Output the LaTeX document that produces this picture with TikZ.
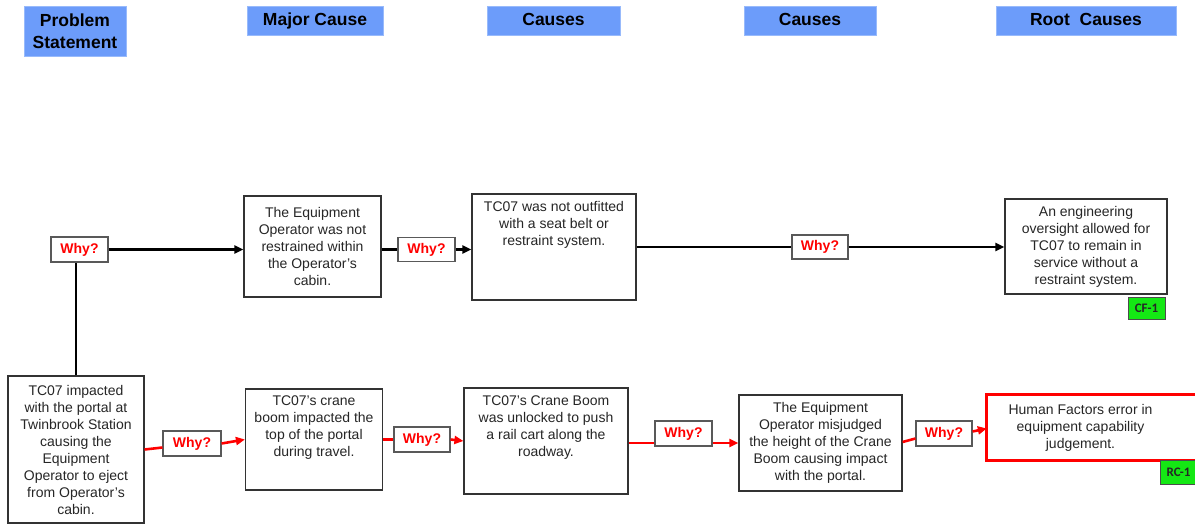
\documentclass[tikz,border=0pt]{standalone}
\usepackage{fontspec}
\setmainfont{Liberation Sans}
\newfontfamily\smallbold{Carlito}
\usetikzlibrary{arrows.meta,calc}
\definecolor{hdrblue}{RGB}{108,156,250}
\definecolor{tagGreen}{RGB}{20,232,20}
\newcommand{\cellbox}[4]{\parbox[c][#2][#3]{#1}{\centering #4}}
\begin{document}
\begin{tikzpicture}[x=1pt,y=-1pt,
  hdr/.style={fill=hdrblue, draw=hdrblue!70!white, line width=0.6pt, inner sep=0pt, align=center, font=\bfseries\fontsize{17.5}{21.5}\selectfont},
  hdr1/.style={hdr, text height=12.5pt, text depth=3.5pt},
  bx/.style={draw=black!80, line width=1.2pt, fill=white, inner sep=0pt, text=black!85, font=\fontsize{14}{17}\selectfont},
  why/.style={draw=black!65, line width=1.1pt, fill=white, inner sep=0pt, text=red, font=\bfseries\fontsize{14}{17}\selectfont},
  tag/.style={draw=black!70, line width=0.6pt, fill=tagGreen, inner sep=0pt, text=black!85, font=\smallbold\bfseries\fontsize{13}{15}\selectfont},
  bl/.style={line width=2.6pt, black},
  rd/.style={line width=2.6pt, red},
  tip/.style={-{Triangle[length=9pt,width=8pt]}}
]
\useasboundingbox (0,0) rectangle (1195,525);

% headers
\node[hdr, minimum width=102pt, minimum height=50pt] (h1) at (75,31) {Problem\\Statement};
\node[hdr1, minimum width=136pt, minimum height=29pt] (h2) at (315,20.5) {Major Cause};
\node[hdr1, minimum width=133pt, minimum height=29pt] (h3) at (553.5,20.5) {Causes};
\node[hdr1, minimum width=132pt, minimum height=29pt] (h4) at (810,20.5) {Causes};
\node[hdr1, minimum width=180pt, minimum height=29pt] (h5) at (1086,20.5) {Root~ Causes};

% top row
\node[why, minimum width=57pt, minimum height=25pt] (w1) at (79.5,249.5) {Why?};
\node[bx] (m1) at (312.5,246.5) {\cellbox{137pt}{101pt}{c}{The Equipment\\Operator was not\\restrained within\\the Operator’s\\cabin.}};
\node[why, minimum width=57pt, minimum height=24pt] (w2) at (426.5,249.5) {Why?};
\node[bx] (c1) at (554,247) {\cellbox{164pt}{106pt}{t}{\vspace*{7pt}TC07 was not outfitted\\with a seat belt or\\restraint system.}};
\node[why, minimum width=56pt, minimum height=24pt] (w3) at (820,247) {Why?};
\node[bx] (r1) at (1086,246.5) {\cellbox{162pt}{95pt}{c}{An engineering\\oversight allowed for\\TC07 to remain in\\service without a\\restraint system.}};
\node[tag, minimum width=37pt, minimum height=22pt] (cf) at (1146.5,308) {CF-1};

% problem statement
\node[bx] (p) at (76,449.5) {\cellbox{136pt}{147pt}{c}{TC07 impacted\\with the portal at\\Twinbrook Station\\causing the\\Equipment\\Operator to eject\\from Operator’s\\cabin.}};

% bottom row
\node[why, minimum width=58pt, minimum height=25pt] (w4) at (192,443.5) {Why?};
\node[bx] (m2) at (314,439.5) {\cellbox{137pt}{101pt}{t}{\vspace*{7pt}TC07’s crane\\boom impacted the\\top of the portal\\during travel.}};
\node[why, minimum width=56pt, minimum height=25pt] (w5) at (422,439.5) {Why?};
\node[bx] (c2) at (546,441) {\cellbox{164pt}{106pt}{t}{\vspace*{8pt}TC07’s Crane Boom\\was unlocked to push\\a rail cart along the\\roadway.}};
\node[why, minimum width=57pt, minimum height=25pt] (w6) at (683.5,433.5) {Why?};
\node[bx] (m3) at (820.5,443) {\cellbox{163pt}{96pt}{c}{The Equipment\\Operator misjudged\\the height of the Crane\\Boom causing impact\\with the portal.}};
\node[why, minimum width=56pt, minimum height=25pt] (w7) at (944,433.5) {Why?};
\node[text=black!85, inner sep=0pt, minimum height=65pt, font=\fontsize{14}{17}\selectfont] (rc) at (1080.5,427.5) {\cellbox{187pt}{65pt}{c}{Human Factors error in\\equipment capability\\judgement.}};
\draw[red, line width=3pt] ($(rc.south east)+(40,0)$) -- (rc.south west) -- (rc.north west) -- ($(rc.north east)+(40,0)$);
\node[tag, minimum width=37pt, minimum height=24pt] (rcl) at (1178.5,472) {RC-1};

% black connectors
\draw[bl] (p.north) -- (p.north |- w1.south);
\draw[bl,tip] (w1.east) -- (w1.east -| m1.west);
\draw[bl] (m1.east |- w2.west) -- (w2.west);
\draw[bl,tip] (w2.east) -- (w2.east -| c1.west);
\draw[bl] (c1.east) -- (c1.east -| w3.west);
\draw[bl,tip] (w3.east) -- (w3.east -| r1.west);

% red connectors
\draw[rd] (p.east) -- ([yshift=-4pt]w4.west);
\draw[rd,tip] (w4.east) -- (m2.west);
\draw[rd] (m2.east) -- (w5.west);
\draw[rd,tip] (w5.east) -- (c2.west);
\draw[rd] (c2.east |- m3.west) -- (m3.west -| w6.west);
\draw[rd,tip] (w6.east |- m3.west) -- (m3.west);
\draw[rd] ([yshift=1pt]m3.east) -- ([yshift=-5pt]w7.west);
\draw[rd,tip] ([yshift=2pt]w7.east) -- ([yshift=-1pt]rc.west);
\end{tikzpicture}
\end{document}
